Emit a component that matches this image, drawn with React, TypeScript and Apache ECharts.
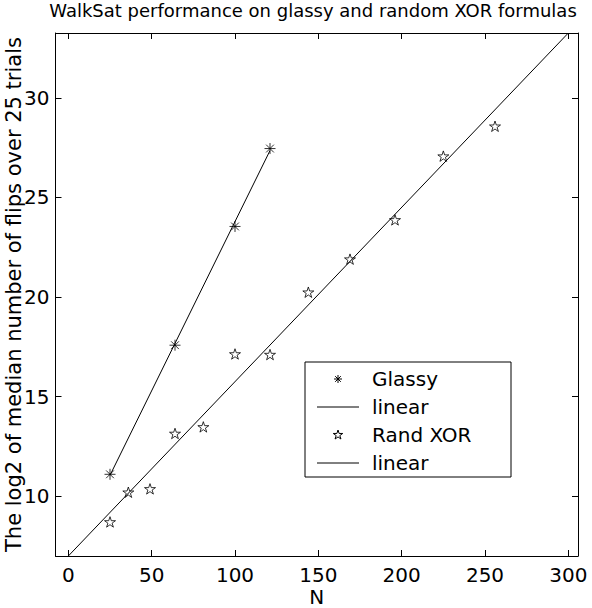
import React, { useEffect, useRef } from "react";
import * as echarts from "echarts";

const glassyN = [25, 64, 100, 121];
const glassyFlips = [11.1, 17.58, 23.54, 27.45];
const randN = [25, 36, 49, 64, 81, 100, 121, 144, 169, 196, 225, 256];
const randFlips = [8.71, 10.2, 10.37, 13.15, 13.48, 17.14, 17.11, 20.24, 21.9, 23.87, 27.07, 28.57];
const glassyFitN = [25, 121];
const glassyFitFlips = [11.05, 27.35];
const randFitN = [0, 300];
const randFitFlips = [7.0, 33.25];
const xTicks = [0, 50, 100, 150, 200, 250, 300];
const yTicks = [10, 15, 20, 25, 30];
const legendLabels = ["Glassy", "linear", "Rand XOR", "linear"];

const FONT = "DejaVu Sans";
const X_MIN = -7.7;
const X_MAX = 305.8;
const Y_MIN = 7.0;
const Y_MAX = 33.25;

// unit five-pointed star (outer radius 1)
const starPts: number[][] = [];
for (let i = 0; i < 10; i++) {
  const r = i % 2 === 0 ? 1 : 0.382;
  const a = (-90 + i * 36) * Math.PI / 180;
  starPts.push([r * Math.cos(a), r * Math.sin(a)]);
}
const starPath =
  "path://" +
  starPts.map((p, i) => (i === 0 ? "M" : "L") + (p[0] * 10).toFixed(3) + "," + (p[1] * 10).toFixed(3)).join("") +
  "Z";
const asteriskPath = "path://M0,-6L0,6M-6,0L6,0M-4.24,-4.24L4.24,4.24M-4.24,4.24L4.24,-4.24";

const pairs = (xs: number[], ys: number[]) => xs.map((x, i) => [x, ys[i]]);

export default function App() {
  const ref = useRef<HTMLDivElement>(null);
  useEffect(() => {
    if (!ref.current) return;
    const chart = echarts.init(ref.current, null, { renderer: "svg" });

    const axisCommon = {
      type: "value" as const,
      axisLine: { show: true, onZero: false, lineStyle: { color: "#000", width: 1 } },
      splitLine: { show: false },
    };

    const legX = 305, legY = 362, legW = 206, legH = 115;
    const rowY = [379, 407, 435, 463];
    const iconCx = 338;
    const legendEls: any[] = [
      {
        type: "rect",
        shape: { x: legX, y: legY, width: legW, height: legH },
        style: { fill: "#fff", stroke: "#000", lineWidth: 1 },
        z: 100,
      },
    ];
    legendLabels.forEach((t, i) => {
      legendEls.push({
        type: "text",
        x: 372,
        y: rowY[i],
        style: { text: t, fill: "#000", fontSize: 20, fontFamily: FONT, verticalAlign: "middle", align: "left" },
        z: 101,
      });
    });
    // line icons
    [1, 3].forEach((i) => {
      legendEls.push({
        type: "line",
        shape: { x1: 317, y1: rowY[i], x2: 359, y2: rowY[i] },
        style: { stroke: "#000", lineWidth: 1 },
        z: 101,
      });
    });
    // asterisk icon
    const ar = 4;
    const ad = ar * 0.707;
    [
      [0, -ar, 0, ar],
      [-ar, 0, ar, 0],
      [-ad, -ad, ad, ad],
      [-ad, ad, ad, -ad],
    ].forEach((s) => {
      legendEls.push({
        type: "line",
        shape: { x1: iconCx + s[0], y1: rowY[0] + s[1], x2: iconCx + s[2], y2: rowY[0] + s[3] },
        style: { stroke: "#000", lineWidth: 1 },
        z: 101,
      });
    });
    // star icon
    legendEls.push({
      type: "polygon",
      shape: { points: starPts.map((p) => [iconCx + p[0] * 5, rowY[2] + p[1] * 5]) },
      style: { fill: "none", stroke: "#000", lineWidth: 1 },
      z: 101,
    });

    chart.setOption({
      animation: false,
      backgroundColor: "#fff",
      grid: { left: 55.5, top: 33, right: 14, bottom: 52, containLabel: false, outerBoundsMode: "none" },
      xAxis: [
        {
          ...axisCommon,
          position: "bottom",
          min: X_MIN,
          max: X_MAX,
          axisTick: { show: true, inside: true, length: 6, customValues: xTicks, lineStyle: { color: "#000" } },
          axisLabel: { show: true, customValues: xTicks, color: "#000", fontSize: 20, fontFamily: FONT, margin: 9 },
          name: "N",
          nameLocation: "middle",
          nameGap: 31,
          nameMoveOverlap: false,
          nameTextStyle: { color: "#000", fontSize: 20, fontFamily: FONT },
        },
        {
          ...axisCommon,
          position: "top",
          min: X_MIN,
          max: X_MAX,
          axisTick: { show: true, inside: true, length: 6, customValues: xTicks, lineStyle: { color: "#000" } },
          axisLabel: { show: false },
        },
      ],
      yAxis: [
        {
          ...axisCommon,
          position: "left",
          min: Y_MIN,
          max: Y_MAX,
          axisTick: { show: true, inside: true, length: 6, customValues: yTicks, lineStyle: { color: "#000" } },
          axisLabel: { show: true, customValues: yTicks, color: "#000", fontSize: 20, fontFamily: FONT, margin: 6 },
          name: "The log2 of median number of flips over 25 trials",
          nameLocation: "middle",
          nameGap: 31,
          nameMoveOverlap: false,
          nameTextStyle: { color: "#000", fontSize: 21, fontFamily: FONT },
        },
        {
          ...axisCommon,
          position: "right",
          min: Y_MIN,
          max: Y_MAX,
          axisTick: { show: true, inside: true, length: 6, customValues: yTicks, lineStyle: { color: "#000" } },
          axisLabel: { show: false },
        },
      ],
      series: [
        {
          name: "Glassy",
          type: "scatter",
          data: pairs(glassyN, glassyFlips),
          symbol: asteriskPath,
          symbolSize: 11,
          symbolKeepAspect: true,
          itemStyle: { color: "transparent", borderColor: "#000", borderWidth: 1 },
          z: 5,
        },
        {
          name: "linear",
          type: "line",
          data: pairs(glassyFitN, glassyFitFlips),
          showSymbol: false,
          symbol: "none",
          lineStyle: { color: "#000", width: 1 },
          clip: true,
        },
        {
          name: "Rand XOR",
          type: "scatter",
          data: pairs(randN, randFlips),
          symbol: starPath,
          symbolSize: 11,
          symbolKeepAspect: true,
          itemStyle: { color: "transparent", borderColor: "#000", borderWidth: 1 },
          z: 5,
        },
        {
          name: "linear ",
          type: "line",
          data: pairs(randFitN, randFitFlips),
          showSymbol: false,
          symbol: "none",
          lineStyle: { color: "#000", width: 1 },
          clip: true,
        },
      ],
      graphic: [
        {
          type: "text",
          x: 313,
          y: 10.5,
          style: {
            text: "WalkSat performance on glassy and random XOR formulas",
            fill: "#000",
            fontSize: 18,
            fontFamily: FONT,
            align: "center",
            verticalAlign: "middle",
          },
        },
        ...legendEls,
      ],
    });
    return () => chart.dispose();
  }, []);

  return (
    <div
      ref={ref}
      style={{ position: "absolute", left: 0, top: 0, width: 592, height: 608, background: "#fff" }}
    />
  );
}
